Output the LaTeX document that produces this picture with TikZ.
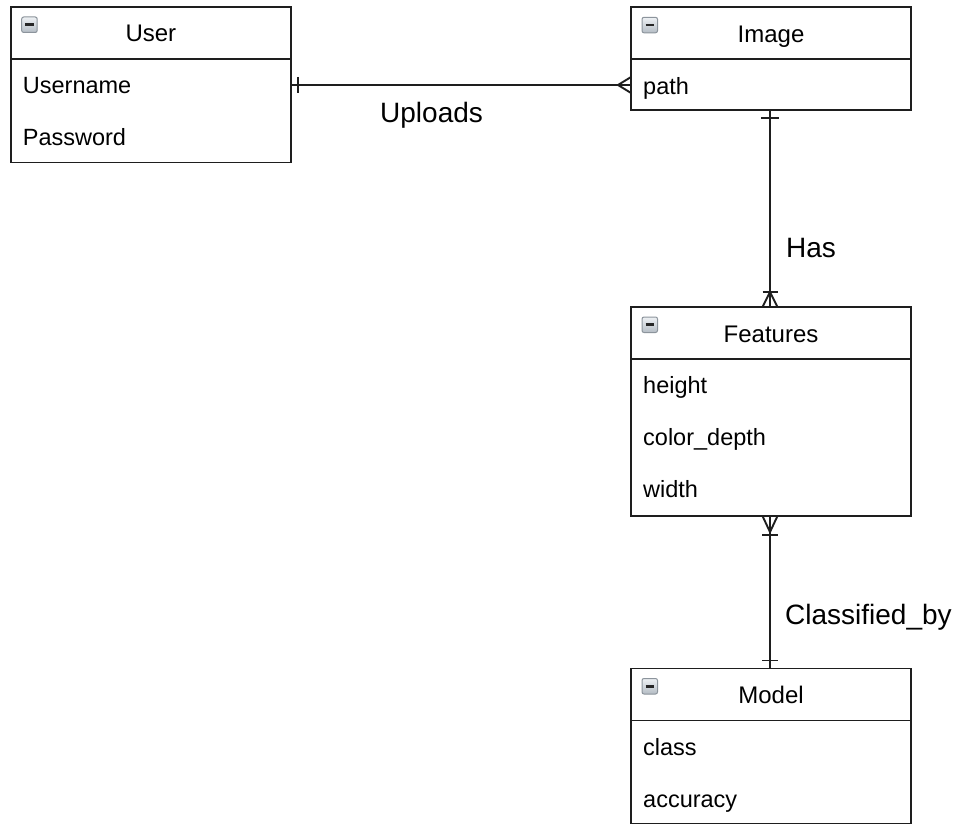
\documentclass[tikz,border=0pt]{standalone}
\usepackage{fontspec}
\setmainfont{Liberation Sans}
\usetikzlibrary{calc}
\definecolor{linec}{HTML}{1E1E1E}
\definecolor{iconb}{HTML}{8C949C}
\definecolor{icontop}{HTML}{EEF1F4}
\definecolor{iconbot}{HTML}{B4BCC4}
\tikzset{
  entity/.style={draw=linec, line width=1.9pt, fill=white, inner sep=0pt, outer sep=0pt, rectangle},
  divider/.style={draw=linec, line width=1.9pt},
  titletext/.style={inner sep=0pt, font=\fontsize{24}{28}\selectfont, text=black},
  fieldtext/.style={inner sep=0pt, font=\fontsize{23.5}{28}\selectfont, text=black},
  reltext/.style={inner sep=0pt, font=\fontsize{28}{32}\selectfont, text=black},
  conn/.style={draw=linec, line width=1.9pt},
  tickmark/.style={draw=linec, line width=1.9pt},
  iconbox/.style={draw=iconb, line width=1pt, top color=icontop, bottom color=iconbot, rounded corners=2pt},
  icondash/.style={draw=black!85, line width=2.6pt}
}
\newcommand{\erentity}[7]{%
  \node[entity, anchor=north west, minimum width={#4-#2}, minimum height={#5-#3}] (#1) at (#2,#3) {};
  \draw[divider] ($(#1.north west)+(0,52)$) -- ($(#1.north east)+(0,52)$);
  \draw[iconbox] ($(#1.north west)+(11,10)$) rectangle ($(#1.north west)+(26.5,25.5)$);
  \draw[icondash] ($(#1.north west)+(14.5,17.75)$) -- ($(#1.north west)+(23,17.75)$);
  \node[titletext, anchor=base] (#1-t) at ($(#1.north)+(0,35)$) {#6};
  \foreach \f [count=\i] in {#7} {
    \coordinate (#1-r\i) at ($(#1.north west)+(0,{78+52*(\i-1)})$);
    \node[fieldtext, anchor=base west] (#1-\i) at ($(#1.north west)+(12,{86.8+52*(\i-1)})$) {\f};
  }
}
\begin{document}
\begin{tikzpicture}[x=1pt,y=-1pt]
\useasboundingbox (0,0) rectangle (962,824);
\clip (0,0) rectangle (962,824);
\fill[white] (0,0) rectangle (962,824);

\erentity{user}{10.7}{7}{291}{162.5}{User}{Username,Password}
\erentity{image}{631}{7.3}{911}{110}{Image}{path}
\erentity{features}{631}{307}{911}{516}{Features}{height,color\_depth,width}
\erentity{model}{631}{668.5}{911}{824.3}{Model}{class,accuracy}

% User -- Image (one to many)
\draw[conn] (user-r1 -| user.east) -- (user-r1 -| image.west);
\draw[tickmark] ($(user-r1 -| user.east)+(7,-8)$) -- ($(user-r1 -| user.east)+(7,8)$);
\draw[conn] ($(user-r1 -| image.west)+(0,-8)$) -- ($(user-r1 -| image.west)+(-13,0)$) -- ($(user-r1 -| image.west)+(0,8)$);

% Image -- Features (one to one-or-many)
\coordinate (vx) at (770,0);
\draw[conn] (vx |- image.south) -- (vx |- features.north);
\draw[tickmark] ($(vx |- image.south)+(-9,8)$) -- ($(vx |- image.south)+(9,8)$);
\draw[tickmark] ($(vx |- features.north)+(-7.5,-15)$) -- ($(vx |- features.north)+(7.5,-15)$);
\draw[conn] ($(vx |- features.north)+(-7.5,0)$) -- ($(vx |- features.north)+(0,-15)$) -- ($(vx |- features.north)+(7.5,0)$);

% Features -- Model (one-or-many to one)
\draw[conn] (vx |- features.south) -- (vx |- model.north);
\draw[conn] ($(vx |- features.south)+(-7.5,0)$) -- ($(vx |- features.south)+(0,16)$) -- ($(vx |- features.south)+(7.5,0)$);
\draw[tickmark] ($(vx |- features.south)+(-8,19)$) -- ($(vx |- features.south)+(8,19)$);
\draw[tickmark] ($(vx |- model.north)+(-8,-8)$) -- ($(vx |- model.north)+(8,-8)$);

% Relationship labels
\node[reltext, anchor=base west] (uploads) at (380,123) {Uploads};
\node[reltext, anchor=base west] (has) at (786,257.7) {Has};
\node[reltext, anchor=base west] (classified) at (785,624) {Classified\_by};
\end{tikzpicture}
\end{document}
